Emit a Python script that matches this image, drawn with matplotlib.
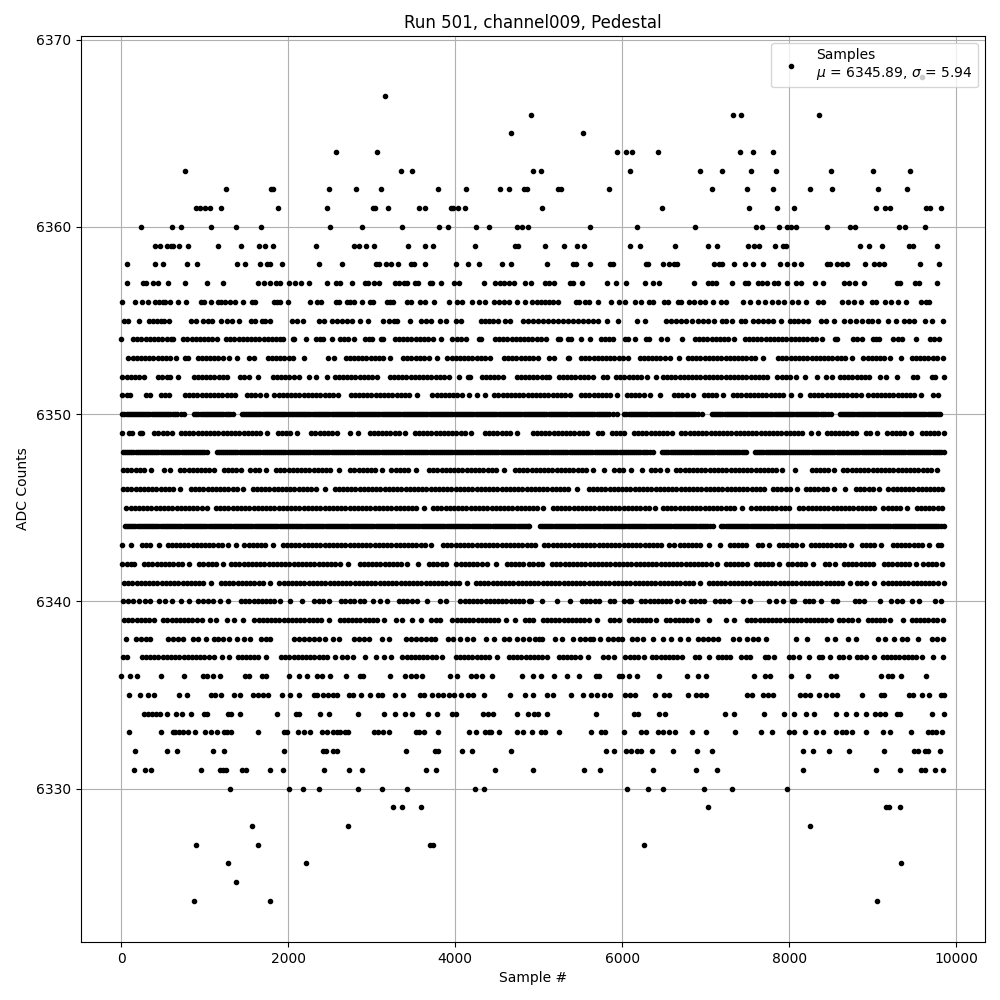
import numpy as np
import matplotlib
matplotlib.use("Agg")
import matplotlib.pyplot as plt

r6368 = [9593]
r6367 = [3164]
r6366 = [4904, 7332, 7428, 8352]
r6365 = [4664, 5532]
r6364 = [2576, 3068, 5940, 6048, 6120, 6432, 7416, 7572, 7812]
r6363 = [764, 3356, 3488, 4932, 5028, 6096, 6936, 7200, 7548, 7848, 8496, 9000, 9444]
r6362 = [1256, 1796, 1824, 2492, 2816, 3116, 3800, 4136, 4532, 4640, 4820, 4860, 5236, 5272, 5844, 7080, 7500, 7812, 8244, 8508, 9060, 9408]
r6361 = [892, 948, 1004, 1068, 1196, 1880, 2468, 3012, 3044, 3200, 3572, 3644, 3948, 3980, 4040, 4124, 5040, 6480, 7524, 7860, 8052, 9036, 9144, 9204, 9640, 9684, 9816]
r6360 = [236, 608, 716, 1076, 1376, 1676, 2504, 2888, 3368, 3812, 3920, 4244, 4400, 4736, 4796, 4868, 5616, 6180, 6876, 7608, 7680, 7884, 7980, 8016, 8076, 8448, 8724, 8784, 9320, 9384, 9624]
r6359 = [404, 464, 548, 592, 620, 692, 800, 1160, 1436, 1652, 1724, 1820, 2336, 2792, 2852, 2936, 3032, 3440, 3644, 3740, 4232, 4712, 4748, 5076, 5304, 5460, 5544, 6096, 6216, 6636, 7032, 7140, 7512, 7584, 7644, 7836, 7932, 7968, 8852, 8952, 9108, 9432, 9480, 9768]
r6358 = [68, 404, 500, 788, 908, 1388, 1484, 1664, 1748, 1784, 1928, 2372, 2648, 3056, 3092, 3176, 3236, 3320, 3476, 3512, 3644, 4016, 4160, 4280, 4556, 4664, 5100, 5412, 5448, 5616, 5856, 5892, 6288, 6312, 6492, 6564, 6624, 6660, 7104, 7164, 7200, 7344, 7476, 7572, 7692, 7896, 7980, 8052, 8136, 8448, 8484, 8568, 8628, 8688, 8904, 9012, 9072, 9132, 9564, 9792]
r6357 = [68, 260, 296, 380, 440, 556, 764, 1028, 1220, 1640, 1712, 1784, 1856, 1904, 2012, 2084, 2156, 2252, 2468, 2576, 2624, 2768, 2924, 2960, 3032, 3092, 3284, 3332, 3392, 3428, 3524, 3560, 3704, 3728, 3836, 3992, 4052, 4340, 4472, 4532, 4580, 4640, 4700, 4832, 4904, 5076, 5124, 5184, 5376, 5412, 5520, 5820, 5928, 6048, 6276, 6372, 6444, 6864, 7032, 7080, 7128, 7320, 7476, 7512, 7632, 7680, 7740, 7824, 7872, 7980, 8076, 8136, 8304, 8400, 8652, 8712, 8784, 8892, 9288, 9324, 9504, 9552, 9768]
r6356 = [8, 164, 248, 320, 404, 452, 500, 524, 584, 680, 776, 956, 992, 1076, 1160, 1196, 1244, 1304, 1364, 1460, 1568, 1604, 1832, 1868, 1904, 2000, 2264, 2348, 2396, 2576, 2612, 2708, 2744, 2792, 2888, 2984, 3020, 3188, 3224, 3260, 3428, 3476, 3584, 3644, 3752, 3932, 4028, 4088, 4208, 4280, 4352, 4460, 4520, 4580, 4640, 4736, 4832, 4916, 4980, 5028, 5076, 5124, 5172, 5232, 5448, 5484, 5556, 5604, 5712, 5868, 5964, 6036, 6156, 6228, 6324, 6372, 6504, 6552, 6672, 6708, 6804, 6864, 6936, 6996, 7092, 7188, 7248, 7452, 7536, 7632, 7716, 7800, 7872, 7944, 8028, 8100, 8196, 8340, 8400, 8628, 8700, 8772, 8856, 8988, 9036, 9144, 9216, 9300, 9396, 9576, 9636, 9672]
r6355 = [32, 80, 212, 332, 380, 428, 476, 512, 572, 836, 896, 980, 1040, 1088, 1196, 1268, 1328, 1412, 1556, 1604, 1688, 1724, 1784, 2048, 2108, 2180, 2372, 2432, 2528, 2588, 2648, 2708, 2768, 2864, 2960, 3140, 3212, 3272, 3308, 3464, 3596, 3656, 3716, 3824, 3896, 4016, 4076, 4304, 4352, 4400, 4448, 4508, 4592, 4652, 4808, 4868, 4932, 4992, 5052, 5112, 5172, 5232, 5292, 5352, 5412, 5472, 5532, 5592, 5652, 5712, 5820, 5952, 6180, 6276, 6528, 6588, 6648, 6708, 6768, 6840, 6912, 6972, 7032, 7104, 7200, 7248, 7320, 7428, 7476, 7572, 7632, 7692, 7752, 7812, 7904, 8004, 8052, 8100, 8160, 8220, 8376, 8436, 8532, 8652, 8724, 8796, 8868, 8940, 8988, 9060, 9180, 9276, 9372, 9432, 9492, 9624, 9708, 9840]
r6354 = [0, 144, 194, 244, 294, 344, 394, 444, 494, 544, 594, 624, 744, 794, 844, 894, 944, 994, 1044, 1094, 1144, 1256, 1306, 1356, 1406, 1456, 1506, 1556, 1606, 1656, 1706, 1756, 1806, 1856, 1906, 1936, 2056, 2076, 2220, 2336, 2376, 2416, 2520, 2616, 2666, 2716, 2784, 2916, 2966, 3004, 3110, 3140, 3276, 3326, 3376, 3426, 3476, 3526, 3576, 3626, 3676, 3736, 3828, 3968, 4018, 4068, 4136, 4284, 4312, 4476, 4526, 4576, 4626, 4676, 4726, 4776, 4826, 4876, 4926, 4976, 5026, 5088, 5232, 5250, 5350, 5386, 5512, 5612, 5748, 5798, 5848, 5888, 6030, 6066, 6156, 6288, 6316, 6468, 6536, 6720, 6872, 6922, 6972, 7022, 7072, 7122, 7172, 7222, 7272, 7336, 7468, 7518, 7568, 7618, 7668, 7718, 7768, 7818, 7868, 7918, 7968, 8018, 8068, 8118, 8168, 8218, 8268, 8318, 8396, 8548, 8576, 8768, 8818, 8876, 9000, 9040, 9076, 9248, 9298, 9356, 9524, 9688, 9738, 9796]
r6353 = [88, 138, 188, 238, 288, 338, 388, 438, 488, 538, 588, 656, 770, 800, 916, 966, 1016, 1066, 1116, 1166, 1216, 1296, 1388, 1536, 1592, 1756, 1806, 1856, 1906, 1956, 2006, 2064, 2192, 2476, 2544, 2688, 2738, 2788, 2838, 2888, 2938, 2988, 3038, 3088, 3138, 3224, 3376, 3426, 3476, 3526, 3576, 3626, 3684, 3780, 3908, 3958, 4008, 4058, 4108, 4158, 4208, 4258, 4308, 4358, 4416, 4584, 4634, 4684, 4734, 4784, 4834, 4884, 4934, 4988, 5128, 5188, 5352, 5368, 5508, 5558, 5608, 5658, 5708, 5758, 5808, 5858, 5908, 5958, 6008, 6076, 6208, 6258, 6308, 6358, 6408, 6458, 6508, 6576, 6676, 6788, 6838, 6888, 6938, 6988, 7038, 7088, 7138, 7188, 7238, 7288, 7338, 7388, 7438, 7488, 7538, 7588, 7688, 7868, 7918, 7968, 8018, 8068, 8118, 8168, 8218, 8268, 8318, 8368, 8418, 8468, 8518, 8568, 8618, 8668, 8756, 8888, 8938, 8988, 9038, 9088, 9138, 9208, 9344, 9468, 9518, 9568, 9618, 9668, 9718, 9768, 9848]
r6352 = [16, 66, 116, 166, 216, 272, 444, 494, 544, 584, 680, 868, 918, 968, 1018, 1068, 1118, 1168, 1218, 1264, 1424, 1474, 1532, 1640, 1816, 1866, 1916, 1966, 2016, 2066, 2136, 2256, 2336, 2460, 2556, 2606, 2656, 2706, 2756, 2806, 2856, 2906, 2956, 3006, 3064, 3216, 3266, 3316, 3366, 3416, 3466, 3516, 3566, 3616, 3666, 3716, 3766, 3816, 3866, 3932, 4048, 4150, 4180, 4316, 4366, 4416, 4466, 4516, 4572, 4736, 4786, 4836, 4886, 4936, 4986, 5036, 5086, 5128, 5240, 5290, 5340, 5390, 5440, 5490, 5540, 5590, 5656, 5776, 5816, 5928, 5978, 6028, 6078, 6128, 6178, 6228, 6296, 6404, 6488, 6538, 6588, 6638, 6688, 6738, 6788, 6838, 6888, 6938, 6988, 7038, 7088, 7138, 7188, 7238, 7288, 7338, 7388, 7438, 7488, 7538, 7588, 7638, 7688, 7736, 7860, 7910, 7960, 8010, 8076, 8184, 8332, 8436, 8512, 8608, 8658, 8708, 8758, 8808, 8858, 8908, 8956, 9088, 9156, 9292, 9480, 9536, 9708, 9744, 9852]
r6351 = [16, 66, 112, 296, 344, 476, 526, 572, 764, 814, 864, 914, 964, 1014, 1064, 1114, 1164, 1214, 1264, 1314, 1364, 1504, 1554, 1604, 1664, 1740, 1836, 1886, 1936, 1986, 2036, 2086, 2136, 2186, 2236, 2286, 2336, 2386, 2436, 2486, 2536, 2596, 2748, 2798, 2848, 2898, 2948, 2998, 3048, 3098, 3148, 3198, 3248, 3298, 3348, 3398, 3448, 3544, 3728, 3778, 3828, 3878, 3928, 3978, 4028, 4078, 4164, 4260, 4360, 4468, 4518, 4568, 4618, 4668, 4718, 4768, 4818, 4868, 4918, 4968, 5018, 5068, 5118, 5168, 5218, 5268, 5318, 5376, 5508, 5558, 5608, 5658, 5708, 5758, 5808, 5858, 5936, 6056, 6106, 6156, 6206, 6256, 6328, 6448, 6620, 6670, 6720, 6776, 6852, 6976, 7026, 7076, 7126, 7204, 7328, 7378, 7428, 7478, 7528, 7578, 7628, 7678, 7728, 7778, 7828, 7878, 7928, 8016, 8124, 8248, 8298, 8348, 8398, 8448, 8498, 8548, 8598, 8648, 8698, 8748, 8798, 8856, 8948, 8998, 9048, 9098, 9148, 9198, 9248, 9298, 9348, 9398, 9448, 9498, 9576, 9728, 9784]
r6350 = [16, 66, 116, 166, 216, 266, 316, 366, 416, 466, 516, 566, 616, 666, 756, 876, 926, 976, 1026, 1076, 1126, 1176, 1226, 1276, 1344, 1444, 1494, 1544, 1594, 1644, 1694, 1744, 1794, 1844, 1894, 1944, 1994, 2044, 2094, 2144, 2194, 2244, 2294, 2344, 2394, 2444, 2494, 2544, 2594, 2644, 2694, 2744, 2794, 2844, 2894, 2944, 2994, 3044, 3094, 3144, 3194, 3244, 3294, 3344, 3394, 3444, 3494, 3544, 3594, 3644, 3694, 3744, 3794, 3844, 3894, 3944, 3994, 4044, 4094, 4144, 4194, 4244, 4294, 4344, 4394, 4444, 4494, 4544, 4594, 4644, 4694, 4744, 4794, 4844, 4894, 4944, 4994, 5044, 5094, 5144, 5194, 5244, 5294, 5344, 5394, 5444, 5494, 5544, 5594, 5644, 5694, 5744, 5794, 5844, 5936, 6028, 6078, 6128, 6178, 6228, 6278, 6328, 6378, 6428, 6478, 6528, 6578, 6628, 6678, 6728, 6778, 6828, 6878, 6956, 7076, 7126, 7176, 7226, 7276, 7326, 7376, 7426, 7476, 7526, 7576, 7626, 7676, 7726, 7776, 7826, 7876, 7926, 7976, 8026, 8076, 8126, 8176, 8226, 8276, 8326, 8376, 8426, 8496, 8608, 8658, 8708, 8758, 8808, 8858, 8908, 8958, 9008, 9058, 9108, 9158, 9208, 9258, 9308, 9358, 9408, 9458, 9508, 9558, 9608, 9658, 9708, 9758, 9808,
         40, 92, 140, 190, 242, 290, 340, 392, 440, 492, 540, 590, 642, 720, 900, 952, 1000, 1050, 1102, 1150, 1200, 1252, 1310, 1468, 1520, 1570, 1620, 1668, 1720, 1770, 1820, 1870, 1920, 1968, 2020, 2070, 2120, 2170, 2220, 2268, 2320, 2370, 2420, 2470, 2520, 2570, 2620, 2668, 2720, 2770, 2820, 2870, 2920, 2968, 3020, 3070, 3120, 3170, 3220, 3268, 3320, 3370, 3420, 3470, 3520, 3570, 3620, 3668, 3720, 3770, 3820, 3870, 3920, 3968, 4020, 4070, 4120, 4170, 4220, 4268, 4320, 4370, 4420, 4470, 4520, 4570, 4620, 4668, 4720, 4770, 4820, 4870, 4920, 4968, 5020, 5070, 5120, 5170, 5220, 5268, 5320, 5370, 5420, 5470, 5520, 5570, 5620, 5668, 5720, 5770, 5820, 5890, 6052, 6102, 6152, 6202, 6252, 6302, 6352, 6402, 6452, 6502, 6552, 6602, 6652, 6702, 6752, 6802, 6852, 6910, 7100, 7150, 7200, 7250, 7300, 7350, 7400, 7450, 7500, 7550, 7600, 7650, 7700, 7750, 7800, 7850, 7900, 7950, 8000, 8050, 8100, 8150, 8200, 8250, 8300, 8350, 8400, 8460, 8632, 8682, 8732, 8782, 8832, 8882, 8932, 8982, 9032, 9082, 9132, 9182, 9232, 9282, 9332, 9382, 9432, 9482, 9532, 9582, 9632, 9682, 9732, 9782]
r6349 = [8, 100, 130, 225, 250, 396, 446, 496, 546, 604, 716, 766, 816, 866, 916, 966, 1016, 1066, 1116, 1166, 1216, 1266, 1316, 1366, 1416, 1466, 1516, 1566, 1616, 1666, 1744, 1876, 1926, 1976, 2026, 2104, 2276, 2326, 2376, 2426, 2476, 2526, 2584, 2740, 2840, 2976, 3026, 3076, 3126, 3176, 3226, 3276, 3326, 3404, 3516, 3566, 3616, 3666, 3716, 3766, 3816, 3866, 3916, 3966, 4016, 4066, 4116, 4196, 4356, 4406, 4456, 4506, 4556, 4606, 4656, 4736, 4928, 4978, 5028, 5078, 5128, 5178, 5228, 5278, 5328, 5378, 5428, 5478, 5528, 5576, 5708, 5756, 5880, 5930, 5980, 6024, 6140, 6190, 6240, 6290, 6340, 6390, 6440, 6490, 6540, 6596, 6708, 6758, 6808, 6858, 6908, 6958, 7008, 7058, 7108, 7158, 7208, 7258, 7308, 7358, 7408, 7458, 7508, 7558, 7608, 7658, 7708, 7758, 7808, 7858, 7908, 7958, 8008, 8058, 8108, 8158, 8256, 8340, 8448, 8498, 8548, 8598, 8648, 8698, 8748, 8796, 8920, 8970, 9048, 9176, 9226, 9276, 9326, 9376, 9456, 9588, 9638, 9688, 9738, 9788, 9856]
r6348 = [24, 74, 124, 174, 224, 274, 324, 374, 424, 474, 524, 574, 624, 674, 724, 774, 824, 874, 924, 974, 1024, 1144, 1194, 1244, 1294, 1344, 1394, 1444, 1494, 1544, 1594, 1644, 1694, 1744, 1794, 1844, 1894, 1944, 1994, 2044, 2094, 2144, 2194, 2244, 2294, 2344, 2394, 2444, 2494, 2544, 2594, 2644, 2694, 2744, 2794, 2844, 2894, 2944, 2994, 3044, 3094, 3144, 3194, 3244, 3294, 3344, 3394, 3444, 3494, 3544, 3594, 3644, 3694, 3744, 3794, 3844, 3894, 3944, 3994, 4044, 4094, 4144, 4194, 4244, 4294, 4344, 4394, 4444, 4494, 4544, 4594, 4644, 4694, 4744, 4794, 4844, 4894, 4944, 4994, 5044, 5094, 5144, 5194, 5244, 5294, 5344, 5394, 5444, 5494, 5544, 5594, 5644, 5694, 5744, 5794, 5844, 5894, 5944, 5994, 6044, 6094, 6144, 6194, 6244, 6294, 6368, 6480, 6530, 6580, 6630, 6680, 6730, 6780, 6830, 6880, 6930, 6980, 7030, 7080, 7130, 7180, 7230, 7280, 7330, 7380, 7430, 7488, 7592, 7642, 7692, 7742, 7792, 7842, 7892, 7942, 7992, 8042, 8092, 8142, 8192, 8242, 8292, 8342, 8392, 8442, 8492, 8542, 8592, 8642, 8692, 8742, 8792, 8842, 8892, 8942, 8992, 9042, 9092, 9142, 9192, 9242, 9292, 9342, 9392, 9442, 9492, 9542, 9592, 9642, 9692, 9742, 9792, 9856,
         48, 100, 148, 198, 250, 298, 348, 400, 448, 500, 548, 598, 650, 698, 748, 800, 848, 900, 948, 998, 1170, 1218, 1268, 1320, 1368, 1418, 1470, 1518, 1568, 1620, 1668, 1718, 1770, 1818, 1868, 1920, 1968, 2018, 2070, 2118, 2168, 2220, 2268, 2318, 2370, 2418, 2468, 2520, 2568, 2618, 2670, 2718, 2768, 2820, 2868, 2918, 2970, 3018, 3068, 3120, 3168, 3218, 3270, 3318, 3368, 3420, 3468, 3518, 3570, 3618, 3668, 3720, 3768, 3818, 3870, 3918, 3968, 4020, 4068, 4118, 4170, 4218, 4268, 4320, 4368, 4418, 4470, 4518, 4568, 4620, 4668, 4718, 4770, 4818, 4868, 4920, 4968, 5018, 5070, 5118, 5168, 5220, 5268, 5318, 5370, 5418, 5468, 5520, 5568, 5618, 5670, 5718, 5768, 5820, 5868, 5918, 5970, 6018, 6068, 6120, 6168, 6218, 6270, 6330, 6505, 6555, 6605, 6655, 6705, 6755, 6805, 6855, 6905, 6955, 7005, 7055, 7105, 7155, 7205, 7255, 7305, 7355, 7405, 7460, 7618, 7668, 7718, 7768, 7818, 7868, 7918, 7968, 8018, 8068, 8118, 8168, 8218, 8268, 8318, 8368, 8418, 8468, 8518, 8568, 8618, 8668, 8718, 8768, 8818, 8868, 8918, 8968, 9018, 9068, 9118, 9168, 9218, 9268, 9318, 9368, 9418, 9468, 9518, 9568, 9618, 9668, 9718, 9768, 9820]
r6347 = [24, 74, 124, 174, 224, 274, 364, 516, 584, 708, 758, 808, 858, 908, 958, 1008, 1058, 1112, 1228, 1278, 1328, 1378, 1436, 1548, 1598, 1648, 1736, 1856, 1906, 1956, 2006, 2056, 2106, 2156, 2206, 2256, 2306, 2356, 2406, 2456, 2506, 2604, 2744, 2794, 2844, 2894, 2944, 2994, 3044, 3124, 3236, 3286, 3336, 3386, 3436, 3536, 3688, 3738, 3788, 3838, 3888, 3938, 3988, 4038, 4088, 4138, 4188, 4238, 4288, 4338, 4388, 4438, 4488, 4584, 4716, 4766, 4816, 4866, 4916, 4966, 5016, 5066, 5116, 5166, 5216, 5266, 5316, 5366, 5416, 5466, 5516, 5566, 5656, 5788, 5908, 5958, 6008, 6104, 6236, 6348, 6398, 6448, 6536, 6648, 6698, 6748, 6798, 6848, 6898, 6948, 6998, 7048, 7098, 7148, 7198, 7248, 7298, 7348, 7398, 7448, 7498, 7548, 7598, 7648, 7698, 7748, 7798, 7848, 7916, 8072, 8268, 8318, 8368, 8418, 8468, 8536, 8648, 8698, 8748, 8798, 8848, 8898, 8948, 8998, 9048, 9098, 9148, 9198, 9248, 9298, 9348, 9398, 9448, 9498, 9548, 9598, 9648, 9698, 9776]
r6346 = [24, 74, 124, 174, 224, 274, 324, 374, 424, 474, 524, 574, 624, 704, 836, 886, 936, 986, 1036, 1086, 1136, 1186, 1236, 1286, 1336, 1386, 1464, 1576, 1626, 1676, 1726, 1776, 1826, 1876, 1926, 1976, 2026, 2076, 2126, 2176, 2226, 2276, 2336, 2444, 2556, 2606, 2656, 2706, 2756, 2806, 2856, 2906, 2956, 3006, 3056, 3106, 3156, 3206, 3256, 3306, 3356, 3406, 3456, 3506, 3556, 3606, 3656, 3706, 3756, 3806, 3856, 3906, 3956, 4006, 4056, 4106, 4156, 4206, 4256, 4306, 4356, 4406, 4456, 4506, 4556, 4606, 4656, 4706, 4756, 4806, 4856, 4906, 4956, 5006, 5056, 5106, 5156, 5206, 5256, 5306, 5356, 5456, 5600, 5650, 5700, 5750, 5800, 5850, 5900, 5950, 6000, 6050, 6100, 6150, 6200, 6250, 6300, 6350, 6400, 6450, 6500, 6550, 6600, 6650, 6700, 6750, 6800, 6850, 6900, 6950, 7000, 7050, 7100, 7150, 7200, 7250, 7300, 7350, 7400, 7450, 7500, 7550, 7600, 7650, 7704, 7808, 7858, 7908, 7958, 8008, 8088, 8200, 8250, 8300, 8350, 8400, 8456, 8540, 8672, 8800, 8850, 8900, 8950, 9000, 9076, 9188, 9238, 9288, 9338, 9388, 9438, 9488, 9538, 9588, 9638, 9688, 9738, 9788, 9836]
r6345 = [64, 114, 164, 214, 264, 314, 364, 414, 464, 514, 564, 614, 664, 714, 764, 814, 864, 914, 964, 1024, 1136, 1186, 1236, 1286, 1336, 1386, 1436, 1486, 1536, 1586, 1636, 1686, 1736, 1786, 1836, 1886, 1936, 1986, 2036, 2086, 2136, 2186, 2236, 2286, 2336, 2386, 2436, 2486, 2536, 2586, 2636, 2686, 2736, 2786, 2836, 2886, 2936, 2986, 3036, 3086, 3136, 3186, 3236, 3286, 3336, 3386, 3436, 3486, 3536, 3624, 3736, 3786, 3836, 3886, 3936, 3986, 4036, 4086, 4136, 4186, 4236, 4286, 4336, 4386, 4436, 4486, 4536, 4586, 4636, 4686, 4736, 4786, 4836, 4886, 4936, 4986, 5056, 5168, 5218, 5268, 5318, 5368, 5418, 5468, 5518, 5568, 5618, 5668, 5718, 5768, 5818, 5868, 5918, 5968, 6018, 6068, 6118, 6168, 6218, 6268, 6318, 6388, 6488, 6538, 6588, 6638, 6688, 6738, 6788, 6838, 6888, 6938, 6988, 7038, 7088, 7138, 7188, 7238, 7288, 7338, 7436, 7548, 7598, 7648, 7698, 7748, 7798, 7848, 7898, 7948, 7996, 8120, 8170, 8220, 8270, 8320, 8370, 8420, 8470, 8520, 8570, 8620, 8670, 8720, 8770, 8820, 8870, 8920, 8970, 9016, 9128, 9178, 9228, 9278, 9328, 9416, 9528, 9578, 9628, 9678, 9728, 9778, 9836]
r6344 = [48, 98, 148, 198, 248, 298, 348, 398, 448, 498, 548, 598, 648, 698, 748, 798, 848, 898, 948, 998, 1048, 1098, 1148, 1198, 1248, 1298, 1348, 1398, 1448, 1498, 1548, 1598, 1648, 1698, 1748, 1798, 1848, 1898, 1948, 1998, 2048, 2098, 2148, 2198, 2248, 2298, 2348, 2398, 2448, 2498, 2548, 2598, 2648, 2698, 2748, 2798, 2848, 2898, 2948, 2998, 3048, 3098, 3148, 3198, 3248, 3298, 3348, 3398, 3448, 3498, 3548, 3598, 3648, 3698, 3748, 3798, 3848, 3898, 3948, 3998, 4048, 4098, 4148, 4198, 4248, 4298, 4348, 4398, 4448, 4498, 4548, 4598, 4648, 4698, 4748, 4798, 4848, 4888, 5016, 5066, 5116, 5166, 5216, 5266, 5316, 5366, 5416, 5466, 5516, 5566, 5616, 5666, 5716, 5766, 5816, 5866, 5916, 5966, 6016, 6066, 6116, 6166, 6216, 6266, 6316, 6366, 6416, 6466, 6516, 6566, 6616, 6666, 6716, 6766, 6816, 6866, 6916, 6966, 7016, 7084, 7188, 7238, 7288, 7338, 7388, 7438, 7488, 7538, 7588, 7638, 7688, 7738, 7788, 7838, 7888, 7938, 7988, 8038, 8088, 8138, 8188, 8238, 8288, 8338, 8388, 8438, 8488, 8538, 8588, 8638, 8688, 8738, 8788, 8838, 8888, 8938, 8988, 9038, 9088, 9138, 9188, 9238, 9288, 9338, 9388, 9438, 9488, 9538, 9588, 9638, 9688, 9738, 9788, 9856,
         72, 122, 172, 222, 272, 322, 372, 422, 472, 522, 572, 622, 672, 722, 772, 822, 872, 922, 972, 1022, 1072, 1122, 1172, 1222, 1272, 1322, 1372, 1422, 1472, 1522, 1572, 1622, 1672, 1722, 1772, 1822, 1872, 1922, 1972, 2022, 2072, 2122, 2172, 2222, 2272, 2322, 2372, 2422, 2472, 2522, 2572, 2622, 2672, 2722, 2772, 2822, 2872, 2922, 2972, 3022, 3072, 3122, 3172, 3222, 3272, 3322, 3372, 3422, 3472, 3522, 3572, 3622, 3672, 3722, 3772, 3822, 3872, 3922, 3972, 4022, 4072, 4122, 4172, 4222, 4272, 4322, 4372, 4422, 4472, 4522, 4572, 4622, 4672, 4722, 4772, 4822, 4870, 5040, 5090, 5140, 5190, 5240, 5290, 5340, 5390, 5440, 5490, 5540, 5590, 5640, 5690, 5740, 5790, 5840, 5890, 5940, 5990, 6040, 6090, 6140, 6190, 6240, 6290, 6340, 6390, 6440, 6490, 6540, 6590, 6640, 6690, 6740, 6790, 6840, 6890, 6940, 6990, 7050, 7212, 7262, 7312, 7362, 7412, 7462, 7512, 7562, 7612, 7662, 7712, 7762, 7812, 7862, 7912, 7962, 8012, 8062, 8112, 8162, 8212, 8262, 8312, 8362, 8412, 8462, 8512, 8562, 8612, 8662, 8712, 8762, 8812, 8862, 8912, 8962, 9012, 9062, 9112, 9162, 9212, 9262, 9312, 9362, 9412, 9462, 9512, 9562, 9612, 9662, 9712, 9762, 9820]
r6343 = [16, 124, 248, 298, 344, 456, 556, 606, 656, 706, 756, 806, 856, 906, 956, 1006, 1056, 1106, 1156, 1206, 1284, 1372, 1476, 1526, 1576, 1626, 1676, 1726, 1824, 1936, 1986, 2036, 2086, 2136, 2186, 2236, 2286, 2336, 2386, 2436, 2486, 2536, 2586, 2636, 2686, 2736, 2786, 2836, 2886, 2936, 2986, 3036, 3086, 3136, 3186, 3236, 3286, 3336, 3386, 3436, 3486, 3536, 3586, 3636, 3712, 3856, 3906, 3956, 4006, 4056, 4106, 4156, 4206, 4256, 4306, 4356, 4406, 4456, 4506, 4556, 4606, 4656, 4706, 4756, 4806, 4856, 4906, 4956, 5068, 5118, 5168, 5218, 5268, 5318, 5368, 5418, 5468, 5518, 5568, 5618, 5668, 5718, 5768, 5818, 5868, 5918, 5968, 6018, 6068, 6118, 6168, 6218, 6268, 6318, 6368, 6418, 6468, 6556, 6620, 6688, 6738, 6788, 6838, 6888, 6938, 7036, 7168, 7288, 7338, 7388, 7438, 7488, 7628, 7678, 7756, 7880, 7930, 7980, 8030, 8080, 8156, 8256, 8306, 8356, 8406, 8456, 8506, 8556, 8606, 8656, 8744, 8868, 8918, 8968, 9018, 9104, 9240, 9290, 9340, 9390, 9440, 9490, 9540, 9590, 9676, 9785, 9815]
r6342 = [16, 66, 116, 152, 276, 326, 376, 426, 476, 526, 576, 626, 676, 726, 816, 936, 986, 1036, 1086, 1136, 1216, 1316, 1366, 1416, 1466, 1516, 1566, 1616, 1666, 1716, 1766, 1816, 1866, 1916, 1966, 2016, 2066, 2116, 2166, 2216, 2266, 2316, 2366, 2416, 2466, 2516, 2566, 2616, 2712, 2856, 2906, 2956, 3006, 3056, 3106, 3156, 3206, 3256, 3306, 3356, 3424, 3560, 3688, 3738, 3788, 3838, 3896, 4016, 4066, 4116, 4166, 4216, 4266, 4316, 4384, 4488, 4616, 4666, 4716, 4766, 4816, 4880, 4932, 4992, 5044, 5160, 5210, 5260, 5310, 5360, 5410, 5460, 5510, 5560, 5610, 5660, 5710, 5760, 5810, 5860, 5910, 5960, 6010, 6060, 6110, 6160, 6210, 6260, 6310, 6360, 6410, 6460, 6510, 6560, 6610, 6660, 6710, 6760, 6810, 6860, 6910, 6960, 7010, 7060, 7136, 7240, 7290, 7340, 7390, 7440, 7496, 7600, 7650, 7700, 7750, 7800, 7876, 7988, 8038, 8088, 8138, 8188, 8288, 8428, 8478, 8544, 8656, 8706, 8756, 8806, 8856, 8906, 8956, 9004, 9136, 9186, 9236, 9286, 9336, 9386, 9436, 9516, 9608, 9658, 9708, 9758, 9836]
r6341 = [36, 86, 136, 186, 236, 286, 336, 386, 436, 486, 536, 586, 636, 686, 736, 786, 836, 886, 936, 986, 1072, 1196, 1246, 1296, 1346, 1396, 1446, 1496, 1546, 1596, 1646, 1696, 1784, 1896, 1946, 1996, 2046, 2096, 2146, 2196, 2246, 2296, 2346, 2396, 2446, 2496, 2546, 2596, 2646, 2696, 2746, 2796, 2846, 2896, 2946, 2996, 3046, 3096, 3146, 3196, 3246, 3296, 3346, 3396, 3446, 3496, 3546, 3596, 3646, 3696, 3746, 3796, 3846, 3896, 3946, 3996, 4046, 4144, 4248, 4298, 4348, 4398, 4448, 4498, 4548, 4598, 4648, 4698, 4748, 4798, 4848, 4898, 4948, 4998, 5048, 5098, 5148, 5198, 5248, 5298, 5348, 5398, 5448, 5498, 5548, 5598, 5648, 5698, 5748, 5798, 5848, 5898, 5948, 5998, 6048, 6098, 6148, 6198, 6248, 6298, 6348, 6398, 6448, 6498, 6548, 6598, 6648, 6698, 6748, 6798, 6848, 6936, 7036, 7086, 7136, 7186, 7236, 7286, 7336, 7386, 7436, 7486, 7536, 7586, 7636, 7686, 7736, 7786, 7836, 7886, 7936, 7986, 8036, 8086, 8136, 8186, 8236, 8286, 8336, 8386, 8436, 8486, 8536, 8586, 8636, 8728, 8816, 8866, 8916, 9016, 9128, 9178, 9228, 9278, 9328, 9378, 9428, 9478, 9528, 9578, 9628, 9678, 9728, 9778, 9856]
r6340 = [24, 84, 140, 212, 292, 348, 452, 520, 612, 720, 812, 920, 980, 1040, 1100, 1180, 1280, 1436, 1486, 1536, 1586, 1636, 1686, 1736, 1786, 1836, 1904, 2028, 2168, 2316, 2366, 2416, 2484, 2636, 2686, 2736, 2784, 2860, 2908, 3020, 3100, 3180, 3328, 3378, 3428, 3478, 3544, 3668, 3820, 3892, 4064, 4114, 4164, 4214, 4264, 4314, 4364, 4414, 4464, 4514, 4564, 4614, 4664, 4714, 4764, 4814, 4884, 4912, 5040, 5220, 5376, 5520, 5570, 5620, 5670, 5728, 5856, 5904, 6028, 6078, 6104, 6228, 6278, 6328, 6378, 6428, 6478, 6528, 6578, 6656, 6732, 6828, 6878, 6928, 6976, 7116, 7166, 7216, 7276, 7452, 7532, 7760, 7844, 7924, 8028, 8056, 8188, 8238, 8288, 8376, 8530, 8570, 8788, 8838, 8896, 9084, 9220, 9292, 9352, 9472, 9552, 9748, 9816]
r6339 = [36, 86, 136, 186, 236, 286, 336, 392, 504, 554, 604, 654, 704, 754, 804, 854, 904, 964, 1068, 1140, 1264, 1352, 1464, 1596, 1646, 1696, 1746, 1796, 1846, 1896, 1946, 1996, 2046, 2096, 2146, 2196, 2246, 2296, 2346, 2396, 2484, 2616, 2666, 2716, 2766, 2816, 2866, 2916, 2966, 3016, 3066, 3152, 3296, 3364, 3480, 3596, 3716, 3766, 3824, 3968, 4018, 4068, 4118, 4168, 4218, 4268, 4318, 4368, 4418, 4468, 4518, 4604, 4712, 4836, 4886, 4936, 5048, 5098, 5148, 5198, 5248, 5298, 5348, 5398, 5448, 5498, 5548, 5598, 5696, 5856, 5906, 5968, 6088, 6138, 6188, 6238, 6288, 6338, 6408, 6528, 6578, 6628, 6678, 6728, 6778, 6828, 6896, 7036, 7240, 7344, 7496, 7546, 7596, 7646, 7696, 7746, 7796, 7846, 7896, 7946, 7996, 8046, 8096, 8146, 8196, 8246, 8296, 8346, 8396, 8446, 8504, 8600, 8650, 8700, 8750, 8824, 8940, 8990, 9040, 9090, 9140, 9208, 9364, 9468, 9518, 9568, 9618, 9668, 9718, 9768, 9848]
r6338 = [60, 180, 240, 300, 348, 560, 620, 680, 740, 860, 920, 1016, 1112, 1160, 1220, 1292, 1388, 1472, 1540, 1676, 1732, 1784, 2072, 2132, 2192, 2252, 2312, 2372, 2440, 2532, 2612, 2792, 2852, 2912, 2972, 3128, 3212, 3416, 3476, 3536, 3596, 3656, 3716, 3764, 3920, 3980, 4064, 4140, 4220, 4364, 4460, 4580, 4640, 4736, 4816, 4880, 4960, 5000, 5040, 5196, 5280, 5412, 5492, 5552, 5612, 5652, 5736, 5832, 5892, 5952, 6000, 6112, 6172, 6252, 6372, 6492, 6580, 6692, 6792, 6912, 6972, 7032, 7092, 7152, 7332, 7404, 7492, 7572, 7632, 7724, 8084, 8212, 8448, 8544, 8700, 8796, 9060, 9144, 9252, 9352, 9412, 9540, 9712, 9772, 9844]
r6337 = [20, 68, 248, 298, 348, 398, 448, 498, 548, 598, 648, 698, 748, 798, 848, 898, 948, 998, 1048, 1112, 1212, 1292, 1396, 1446, 1496, 1546, 1596, 1644, 1736, 1916, 1966, 2016, 2066, 2116, 2166, 2216, 2266, 2316, 2366, 2416, 2466, 2564, 2648, 2708, 2780, 2924, 3056, 3152, 3232, 3368, 3418, 3468, 3518, 3568, 3618, 3668, 3718, 3768, 3844, 4008, 4058, 4108, 4158, 4208, 4258, 4308, 4358, 4408, 4504, 4644, 4694, 4744, 4794, 4844, 4894, 4944, 4994, 5044, 5096, 5240, 5290, 5340, 5390, 5440, 5490, 5596, 5776, 5826, 5904, 6040, 6090, 6140, 6190, 6256, 6360, 6410, 6460, 6510, 6560, 6610, 6660, 6716, 6868, 6918, 7036, 7148, 7198, 7248, 7296, 7428, 7478, 7536, 7708, 7744, 7824, 7992, 8042, 8116, 8232, 8360, 8396, 8492, 8600, 8650, 8716, 8816, 8866, 8916, 9016, 9120, 9170, 9220, 9270, 9320, 9370, 9420, 9470, 9520, 9596, 9724, 9844]
r6336 = [0, 104, 188, 476, 752, 980, 1028, 1100, 1184, 1484, 1532, 1688, 1736, 2012, 2132, 2228, 2348, 2408, 2504, 2696, 2864, 2900, 3224, 3404, 3476, 3536, 3608, 3944, 4028, 4196, 4244, 4316, 4436, 4796, 4932, 5028, 5184, 5340, 5484, 5688, 5724, 5964, 6000, 6084, 6180, 6444, 6780, 6912, 7008, 7584, 7716, 7776, 8016, 8220, 8496, 8556, 9096, 9180, 9228, 9336, 9636]
r6335 = [92, 224, 320, 392, 692, 788, 1076, 1124, 1196, 1352, 1424, 1580, 1640, 1700, 1760, 1928, 2024, 2132, 2312, 2348, 2420, 2480, 2540, 2588, 2732, 2780, 2876, 2984, 3080, 3128, 3284, 3380, 3584, 3632, 3728, 3800, 3860, 3932, 3992, 4076, 4160, 4220, 4348, 4652, 4832, 4932, 5100, 5172, 5388, 5532, 5628, 5700, 5784, 5856, 6036, 6096, 6156, 6396, 6504, 6564, 6792, 6888, 6948, 7008, 7500, 7560, 7692, 7752, 7812, 8124, 8184, 8244, 8352, 8436, 8508, 8568, 8868, 9096, 9132, 9432, 9480, 9588, 9672, 9816, 9852]
r6334 = [272, 320, 368, 416, 464, 548, 656, 728, 836, 992, 1028, 1280, 1316, 1424, 1868, 2096, 2132, 2384, 2488, 2840, 3152, 3284, 3404, 3488, 3680, 3788, 3968, 4016, 4328, 4388, 4448, 4736, 4868, 4948, 4992, 5100, 5688, 6144, 6192, 6444, 6516, 7236, 7344, 7704, 7944, 8052, 8196, 8292, 8556, 8676, 8796, 8916, 9024, 9084, 9144, 9288, 9324, 9708, 9852]
r6333 = [92, 476, 620, 644, 692, 740, 800, 884, 1004, 1076, 1148, 1232, 1268, 1316, 1640, 1952, 1988, 2120, 2192, 2264, 2408, 2468, 2540, 2588, 2624, 2684, 2720, 3032, 3080, 3140, 3212, 3536, 3572, 3632, 3800, 4172, 4244, 4352, 4400, 4424, 4520, 4736, 4808, 4916, 5028, 5076, 5244, 5628, 5748, 5796, 6024, 6228, 6288, 6432, 6492, 6564, 6636, 6840, 7008, 7356, 7668, 7800, 7992, 8052, 8184, 8316, 8400, 8556, 8628, 8676, 8748, 8916, 9120, 9204, 9456, 9660, 9708, 9756, 9828]
r6332 = [164, 548, 668, 1100, 1232, 1952, 2420, 2456, 2540, 2588, 3416, 3764, 3800, 4088, 4208, 4664, 5808, 5904, 6048, 6108, 6180, 6228, 6360, 6612, 6900, 7080, 8160, 8280, 8472, 8712, 9132, 9492, 9540, 9624, 9660, 9804]
r6331 = [152, 284, 356, 956, 1184, 1220, 1256, 1448, 1496, 1784, 1940, 2432, 2732, 2888, 3656, 3776, 4472, 4932, 5544, 5736, 6372, 6888, 7140, 8160, 9036, 9324, 9576, 9624, 9744, 9840]
r6330 = [1304, 2012, 2180, 2372, 2840, 3128, 3428, 4232, 4340, 6060, 6312, 6492, 6984, 7320, 7980]
r6329 = [3260, 3368, 3596, 7032, 9156, 9192, 9324]
r6328 = [1568, 2720, 8244]
r6327 = [896, 1640, 3704, 3740, 6264]
r6326 = [1280, 2216, 9336]
r6325 = [1376]
r6324 = [872, 1784, 9048]

levels = list(range(6368, 6323, -1))
rows = [r6368, r6367, r6366, r6365, r6364, r6363, r6362, r6361, r6360, r6359,
        r6358, r6357, r6356, r6355, r6354, r6353, r6352, r6351, r6350, r6349,
        r6348, r6347, r6346, r6345, r6344, r6343, r6342, r6341, r6340, r6339,
        r6338, r6337, r6336, r6335, r6334, r6333, r6332, r6331, r6330, r6329,
        r6328, r6327, r6326, r6325, r6324]

samples = np.concatenate([np.array(r, dtype=float) for r in rows])
counts = np.concatenate([np.full(len(r), lv, dtype=float) for r, lv in zip(rows, levels)])

fig = plt.figure(figsize=(10, 10), dpi=100)
ax = fig.add_axes([0.081, 0.058, 0.904, 0.906])
ax.plot(samples, counts, "k.", label="Samples\n$\\mu$ = 6345.89, $\\sigma$ = 5.94")
ax.set_xlim(-480, 10345)
ax.set_ylim(6321.8, 6370.2)
ax.set_title("Run 501, channel009, Pedestal")
ax.set_xlabel("Sample #")
ax.set_ylabel("ADC Counts")
ax.grid(True)
ax.legend(loc="upper right")
fig.savefig("out.png", dpi=100)
